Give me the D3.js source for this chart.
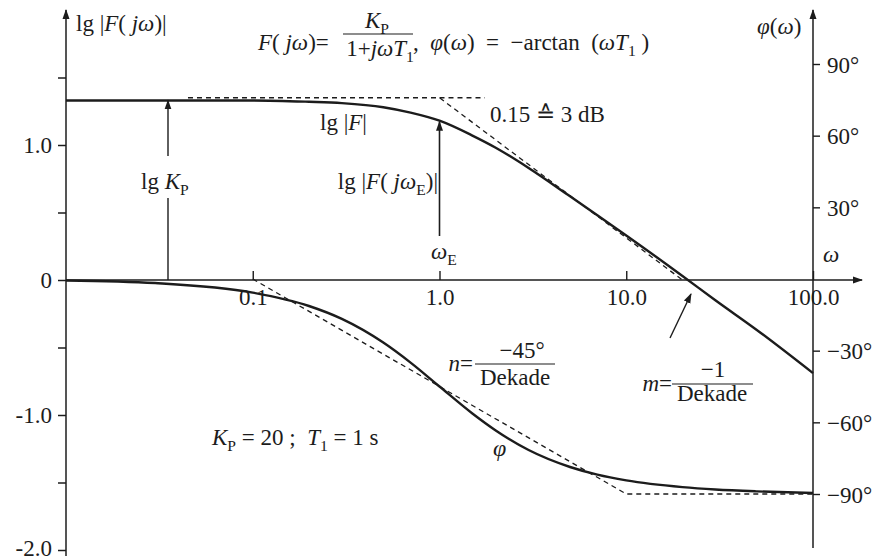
<!DOCTYPE html>
<html><head><meta charset="utf-8">
<script src="https://cdn.jsdelivr.net/npm/d3@7"></script>
<style>
html,body{margin:0;padding:0;background:#fff;}
svg text{font-family:"Liberation Serif","Times New Roman",serif;fill:#1c1c1c;white-space:pre;}
</style></head>
<body><svg id="c" width="884" height="560"></svg>
<script>
// ---- data ----
const omega      = [0.01, 0.03, 0.1, 0.2, 0.3, 0.5, 0.7, 1, 1.5, 2, 3, 5, 7, 10, 20, 30, 50, 100];
const magnitude  = [1.33, 1.33, 1.33, 1.32, 1.31, 1.28, 1.24, 1.18, 1.07, 0.98, 0.83, 0.62, 0.48, 0.33, 0.03, -0.15, -0.37, -0.69];
const phase      = [-0.6, -1.7, -5.7, -11.3, -16.7, -26.6, -35, -45, -56.3, -63.4, -71.6, -78.7, -81.9, -84.3, -87.1, -88.1, -88.9, -89.6];
const magAsymOmega = [0.045, 1, 20];
const magAsymValue = [1.35, 1.35, 0.0];
const phaseAsymOmega = [0.1, 10, 100];
const phaseAsymValue = [0, -90, -90];
const leftTicks   = [-2, -1.5, -1, -0.5, 0, 0.5, 1, 1.5];
const leftLabels  = {"-2": "-2.0", "-1": "-1.0", "0": "0", "1": "1.0"};
const rightTicks  = [90, 60, 30, -30, -60, -90];
const rightLabels = ["90°", "60°", "30°", "−30°", "−60°", "−90°"];
const xTicks      = [0.1, 1, 10, 100];
const xLabels     = ["0.1", "1.0", "10.0", "100.0"];

const svg = d3.select("#c");
const ink = "#1c1c1c";
const FS = 23;

const x  = d3.scaleLog().domain([0.01, 100]).range([66, 813]);
const yL = d3.scaleLinear().domain([-2, 1.5]).range([550, 77.5]);
const yR = d3.scaleLinear().domain([-90, 90]).range([494, 64]);

// arrow marker
const defs = svg.append("defs");
defs.append("marker").attr("id","ah").attr("viewBox","0 0 10 10").attr("refX",9).attr("refY",5)
  .attr("markerWidth",10).attr("markerHeight",11).attr("markerUnits","userSpaceOnUse").attr("orient","auto")
  .append("path").attr("d","M0,1.5 L10,5 L0,8.5 Z").attr("fill",ink);

function arrow(x1,y1,x2,y2,w){
  svg.append("line").attr("x1",x1).attr("y1",y1).attr("x2",x2).attr("y2",y2)
    .attr("stroke",ink).attr("stroke-width",w||1.3).attr("marker-end","url(#ah)");
}

// ---- axes lines ----
arrow(66, 556, 66, 10, 1.5);
arrow(813, 548, 813, 10, 1.5);
arrow(66, 280, 862, 280, 1.4);

// left axis ticks
const gL = svg.append("g").attr("transform","translate(66,0)")
  .call(d3.axisLeft(yL).tickValues(leftTicks).tickSize(8).tickSizeOuter(0)
    .tickFormat(d => leftLabels[String(d)] || ""));
gL.select(".domain").remove();
gL.selectAll("line").attr("stroke",ink).attr("stroke-width",1.5);
gL.selectAll("text").attr("font-size",FS).attr("fill",ink).attr("dx",-3)
  .attr("dy", d => d === -2 ? "0.22em" : "0.33em")
  .style("font-family","Liberation Serif");

// right axis ticks
const gR = svg.append("g").attr("transform","translate(813,0)")
  .call(d3.axisRight(yR).tickValues(rightTicks).tickSize(7).tickSizeOuter(0)
    .tickFormat((d,i) => rightLabels[i]));
gR.select(".domain").remove();
gR.selectAll("line").attr("stroke",ink).attr("stroke-width",1.4);
gR.selectAll("text").attr("font-size",FS).attr("fill",ink).attr("dx",4).attr("dy","0.36em")
  .style("font-family","Liberation Serif");

// x axis ticks (upward) and labels below
const gX = svg.append("g").attr("transform","translate(0,280)")
  .call(d3.axisBottom(x).tickValues(xTicks).tickSize(-9).tickSizeOuter(0)
    .tickFormat((d,i) => xLabels[i]));
gX.select(".domain").remove();
gX.selectAll("line").attr("stroke",ink).attr("stroke-width",1.4);
gX.selectAll("text").attr("font-size",FS).attr("fill",ink).attr("y",25).attr("dy",0)
  .style("font-family","Liberation Serif");

// ---- asymptotes (dashed) ----
const dash = "5,4";
const lineL = d3.line().x(d => x(d[0])).y(d => yL(d[1]));
const lineR = d3.line().x(d => x(d[0])).y(d => yR(d[1]));
svg.append("path").attr("d", lineL(magAsymOmega.map((w,i)=>[w, magAsymValue[i]])))
  .attr("fill","none").attr("stroke",ink).attr("stroke-width",1.3).attr("stroke-dasharray",dash);
svg.append("line").attr("x1",x(1)).attr("x2",x(1.75)).attr("y1",yL(1.35)).attr("y2",yL(1.35))
  .attr("stroke",ink).attr("stroke-width",1.3).attr("stroke-dasharray",dash);
svg.append("path").attr("d", lineR(phaseAsymOmega.map((w,i)=>[w, phaseAsymValue[i]])))
  .attr("fill","none").attr("stroke",ink).attr("stroke-width",1.3).attr("stroke-dasharray",dash);

// ---- curves ----
const curveL = d3.line().curve(d3.curveMonotoneX).x(d => x(d[0])).y(d => yL(d[1]));
const curveR = d3.line().curve(d3.curveMonotoneX).x(d => x(d[0])).y(d => yR(d[1]));
svg.append("path").attr("d", curveL(omega.map((w,i)=>[w, magnitude[i]])))
  .attr("fill","none").attr("stroke",ink).attr("stroke-width",2.4);
svg.append("path").attr("d", curveR(omega.map((w,i)=>[w, phase[i]])))
  .attr("fill","none").attr("stroke",ink).attr("stroke-width",2.4);

// ---- annotation arrows ----
const xKp = 168;
svg.append("line").attr("x1",xKp).attr("x2",xKp).attr("y1",280).attr("y2",198).attr("stroke",ink).attr("stroke-width",1.4);
arrow(xKp, 156, xKp, yL(1.33), 1.4);
arrow(x(1), 236, x(1), yL(1.18)+1, 1.6);
arrow(670, 338, 691, 294, 1.4);

// ---- text helpers ----
function txt(xp, yp, size, parts, anchor){
  const t = svg.append("text").attr("x",xp).attr("y",yp).attr("font-size",size)
    .attr("text-anchor",anchor||"start");
  parts.forEach(p => {
    const s = t.append("tspan").text(p.t);
    if (p.i) s.attr("font-style","italic");
    if (p.sub) { s.attr("font-size", size*0.68).attr("dy", size*0.25); }
    if (p.up) { s.attr("dy", -size*0.25); }
  });
  return t;
}

txt(76, 31, FS, [{t:"lg |"},{t:"F",i:1},{t:"( "},{t:"jω",i:1},{t:")|"}]);
txt(757, 34, FS, [{t:"φ",i:1},{t:"("},{t:"ω",i:1},{t:")"}]);

// formula
txt(258, 50, FS, [{t:"F",i:1},{t:"( "},{t:"jω",i:1},{t:")="}]);
txt(377, 28, FS, [{t:"K",i:1},{t:"P",sub:1}], "middle");
svg.append("line").attr("x1",343).attr("x2",413).attr("y1",34).attr("y2",34).attr("stroke",ink).attr("stroke-width",1.2);
txt(380, 56, FS, [{t:"1+"},{t:"jωT",i:1},{t:"1",sub:1}], "middle");
txt(413, 50, FS, [{t:",  "},{t:"φ",i:1},{t:"("},{t:"ω",i:1},{t:")  =  −arctan  ("},{t:"ωT",i:1},{t:"1",sub:1},{t:" )",up:1}]);

txt(490, 122, FS, [{t:"0.15 ≙ 3 dB"}]);
txt(320, 130, FS, [{t:"lg |"},{t:"F",i:1},{t:"|"}]);
txt(141, 189, FS, [{t:"lg "},{t:"K",i:1},{t:"P",sub:1}]);
txt(438, 189, FS, [{t:"lg |"},{t:"F",i:1},{t:"( "},{t:"jω",i:1},{t:"E",sub:1},{t:")|",up:1}], "end");
txt(431, 259, FS, [{t:"ω",i:1},{t:"E",sub:1}]);
txt(823, 262, FS, [{t:"ω",i:1}]);

// n = -45°/Dekade
txt(473, 371, FS, [{t:"n",i:1},{t:"="}], "end");
txt(522, 358, FS, [{t:"−45°"}], "middle");
svg.append("line").attr("x1",475).attr("x2",555).attr("y1",364).attr("y2",364).attr("stroke",ink).attr("stroke-width",1.2);
txt(515, 385, FS, [{t:"Dekade"}], "middle");

// m = -1/Dekade
txt(672, 391, FS, [{t:"m",i:1},{t:"="}], "end");
txt(713, 377, FS, [{t:"−1"}], "middle");
svg.append("line").attr("x1",672).attr("x2",753).attr("y1",384).attr("y2",384).attr("stroke",ink).attr("stroke-width",1.2);
txt(712, 401, FS, [{t:"Dekade"}], "middle");

txt(212, 445, FS, [{t:"K",i:1},{t:"P",sub:1},{t:" = 20 ;  ",up:1},{t:"T",i:1},{t:"1",sub:1},{t:" = 1 s",up:1}]);
txt(493, 456, 24, [{t:"φ",i:1}]);
</script></body></html>
